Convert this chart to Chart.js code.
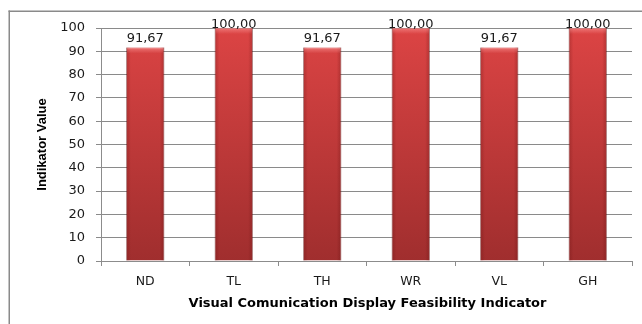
<!DOCTYPE html>
<html>
<head>
<meta charset="utf-8">
<script src="https://cdn.jsdelivr.net/npm/chart.js@4.4.1/dist/chart.umd.min.js"></script>
<style>
  html, body { margin: 0; padding: 0; background: #ffffff; overflow: hidden; }
  #wrap { width: 642px; height: 324px; position: relative; overflow: hidden; }
  canvas { display: block; }
</style>
</head>
<body>
<div id="wrap"><canvas id="c" width="642" height="324"></canvas></div>
<script>
const categories = ['ND', 'TL', 'TH', 'WR', 'VL', 'GH'];
const values = [91.67, 100.00, 91.67, 100.00, 91.67, 100.00];
const valueLabels = ['91,67', '100,00', '91,67', '100,00', '91,67', '100,00'];
const yTicks = [0, 10, 20, 30, 40, 50, 60, 70, 80, 90, 100];
const xTitle = 'Visual Comunication Display Feasibility Indicator';
const yTitle = 'Indikator Value';

const frame = {
  id: 'frame',
  beforeDraw(chart) {
    const ctx = chart.ctx;
    ctx.save();
    ctx.fillStyle = '#ffffff';
    ctx.fillRect(0, 0, chart.width, chart.height);
    ctx.fillStyle = '#8a8a8a';
    ctx.fillRect(8.5, 10.5, 1.5, chart.height - 10.5);
    ctx.fillRect(8.5, 10.5, chart.width - 8.5, 1.5);
    ctx.restore();
  }
};

const extras = {
  id: 'extras',
  afterDatasetsDraw(chart) {
    const ctx = chart.ctx;
    const meta = chart.getDatasetMeta(0);
    ctx.save();
    meta.data.forEach((bar, i) => {
      const w = bar.width;
      const l = bar.x - w / 2, r = bar.x + w / 2;
      const t = bar.y, b = bar.base;
      let g = ctx.createLinearGradient(l, 0, r, 0);
      g.addColorStop(0, 'rgba(90,10,10,0.28)');
      g.addColorStop(0.12, 'rgba(90,10,10,0.0)');
      g.addColorStop(0.88, 'rgba(90,10,10,0.0)');
      g.addColorStop(1, 'rgba(90,10,10,0.30)');
      ctx.fillStyle = g;
      ctx.fillRect(l, t, w, b - t);
      let g2 = ctx.createLinearGradient(0, t, 0, t + 6);
      g2.addColorStop(0, 'rgba(255,160,160,0.55)');
      g2.addColorStop(1, 'rgba(255,160,160,0.0)');
      ctx.fillStyle = g2;
      ctx.fillRect(l + 1, t, w - 2, 6);
      ctx.fillStyle = '#1a1a1a';
      ctx.font = '13px "DejaVu Sans"';
      ctx.textAlign = 'center';
      ctx.textBaseline = 'bottom';
      const y = Math.max(t - 2, 31);
      ctx.fillText(valueLabels[i], bar.x, y);
    });
    const ca = chart.chartArea;
    ctx.fillStyle = '#000000';
    ctx.font = 'bold 13px "DejaVu Sans"';
    ctx.textAlign = 'center';
    ctx.textBaseline = 'middle';
    ctx.fillText(xTitle, (ca.left + ca.right) / 2 + 1, 304);
    ctx.save();
    ctx.translate(42, (ca.top + ca.bottom) / 2);
    ctx.rotate(-Math.PI / 2);
    ctx.font = 'bold 13px "Liberation Sans Narrow", "Liberation Sans"';
    ctx.fillText(yTitle, 0, 0);
    ctx.restore();
    ctx.restore();
  }
};

new Chart(document.getElementById('c'), {
  type: 'bar',
  data: {
    labels: categories,
    datasets: [{
      data: values,
      backgroundColor(ctx) {
        const ca = ctx.chart.chartArea;
        if (!ca) return '#c83a3a';
        const g = ctx.chart.ctx.createLinearGradient(0, ca.top, 0, ca.bottom);
        g.addColorStop(0, '#dc4444');
        g.addColorStop(1, '#a02e2e');
        return g;
      },
      borderColor: 'rgba(120,25,25,0.6)',
      borderWidth: 0.8,
      barPercentage: 0.43,
      categoryPercentage: 1.0
    }]
  },
  options: {
    responsive: false,
    animation: false,
    devicePixelRatio: 1,
    layout: { padding: { left: 0, right: 10, top: 28, bottom: 0 } },
    plugins: { legend: { display: false }, tooltip: { enabled: false } },
    scales: {
      x: {
        afterFit(s) { s.height = 63; },
        grid: { offset: true, drawOnChartArea: false, tickLength: 5, color: '#8c8c8c' },
        border: { color: '#8c8c8c', width: 1 },
        ticks: { color: '#1a1a1a', font: { family: 'DejaVu Sans', size: 12.5 }, padding: 8, maxRotation: 0 }
      },
      y: {
        min: 0, max: 100,
        afterFit(s) { s.width = 101; },
        afterBuildTicks(s) { s.ticks = yTicks.map(v => ({ value: v })); },
        grid: { color: '#8a8a8a', tickLength: 5 },
        border: { color: '#8c8c8c', width: 1 },
        ticks: { color: '#1a1a1a', font: { family: 'DejaVu Sans', size: 13 }, padding: 11 }
      }
    }
  },
  plugins: [frame, extras]
});
</script>
</body>
</html>
